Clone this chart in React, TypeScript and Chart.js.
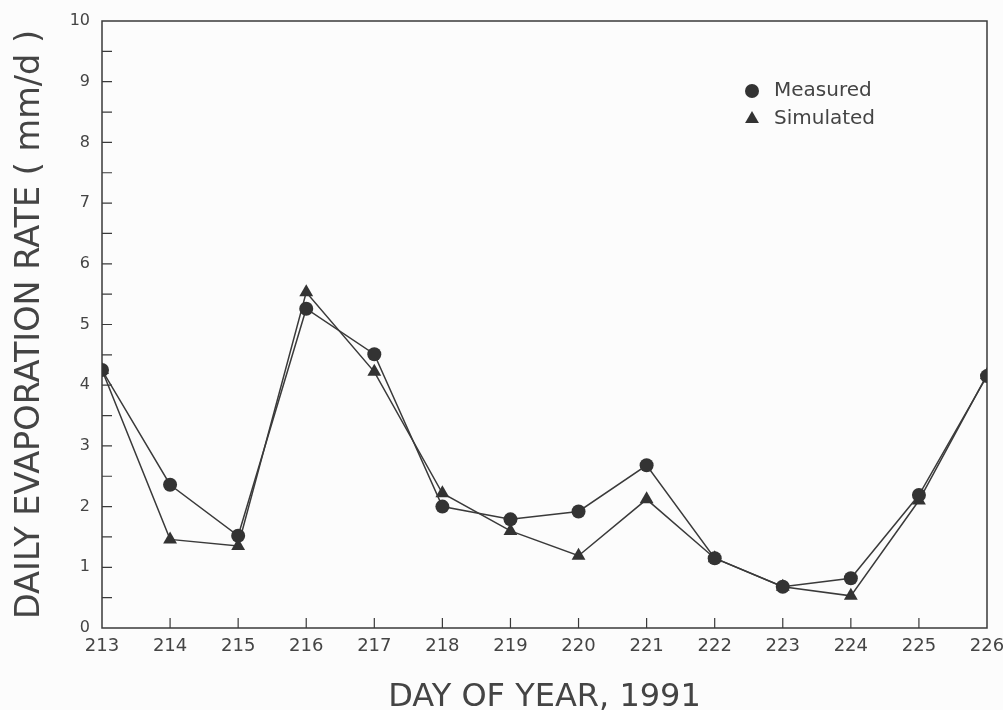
import React, { useEffect, useRef } from "react";
import { Chart, registerables } from "chart.js";

Chart.register(...registerables);

const days = [213, 214, 215, 216, 217, 218, 219, 220, 221, 222, 223, 224, 225, 226];
const measured = [4.25, 2.36, 1.52, 5.26, 4.51, 2.0, 1.79, 1.92, 2.68, 1.15, 0.68, 0.82, 2.19, 4.15];
const simulated = [4.25, 1.46, 1.35, 5.53, 4.22, 2.22, 1.6, 1.19, 2.12, 1.15, 0.68, 0.53, 2.1, 4.17];
const seriesLabels = ["Measured", "Simulated"];
const xTitle = "DAY OF YEAR, 1991";
const yTitle = "DAILY EVAPORATION RATE ( mm/d )";
const xRange = [213, 226];
const yRange = [0, 10];

const INK = "#3a3a3a";
const FONT = "'DejaVu Sans', 'Noto Sans', sans-serif";

const framePlugin = {
  id: "frame",
  beforeDraw(chart: any) {
    const { ctx, width, height } = chart;
    ctx.save();
    ctx.fillStyle = "#fcfcfc";
    ctx.fillRect(0, 0, width, height);
    ctx.restore();
  },
  beforeDatasetsDraw(chart: any) {
    const { ctx, chartArea: a, scales } = chart;
    ctx.save();
    ctx.strokeStyle = INK;
    ctx.lineWidth = 1.5;
    ctx.strokeRect(a.left, a.top, a.right - a.left, a.bottom - a.top);
    ctx.lineWidth = 1.2;
    ctx.beginPath();
    for (let d = xRange[0] + 1; d < xRange[1]; d++) {
      const px = scales.x.getPixelForValue(d);
      ctx.moveTo(px, a.bottom);
      ctx.lineTo(px, a.bottom - 10);
    }
    for (let v = yRange[0] + 0.5; v < yRange[1]; v += 0.5) {
      const py = scales.y.getPixelForValue(v);
      ctx.moveTo(a.left, py);
      ctx.lineTo(a.left + 10, py);
    }
    ctx.stroke();
    ctx.restore();
  },
  afterDraw(chart: any) {
    const { ctx, chartArea: a } = chart;
    ctx.save();
    const mx = a.left + 650;
    const rows = [a.top + 70, a.top + 98];
    chart.data.datasets.forEach((ds: any, i: number) => {
      const y = rows[i];
      ctx.fillStyle = "#333";
      ctx.beginPath();
      if (ds.pointStyle === "triangle") {
        const r = 8;
        ctx.moveTo(mx, y - r);
        ctx.lineTo(mx + r * Math.sin((2 * Math.PI) / 3), y - r * Math.cos((2 * Math.PI) / 3));
        ctx.lineTo(mx + r * Math.sin((4 * Math.PI) / 3), y - r * Math.cos((4 * Math.PI) / 3));
        ctx.closePath();
      } else {
        ctx.arc(mx, y, 7, 0, Math.PI * 2);
      }
      ctx.fill();
      ctx.fillStyle = "#444";
      ctx.font = `20px ${FONT}`;
      ctx.textBaseline = "middle";
      ctx.textAlign = "left";
      ctx.fillText(ds.label, mx + 22, y);
    });
    ctx.restore();
  },
};

export default function App() {
  const ref = useRef<HTMLCanvasElement | null>(null);

  useEffect(() => {
    if (!ref.current) return;
    const mk = (vals: number[]) => days.map((d, i) => ({ x: d, y: vals[i] }));
    const chart = new Chart(ref.current, {
      type: "line",
      data: {
        datasets: [
          {
            label: seriesLabels[0],
            data: mk(measured),
            borderColor: INK,
            backgroundColor: "#333",
            borderWidth: 1.5,
            pointStyle: "circle",
            pointRadius: 7,
            pointBorderWidth: 0,
            pointBackgroundColor: "#333",
            tension: 0,
          },
          {
            label: seriesLabels[1],
            data: mk(simulated),
            borderColor: INK,
            backgroundColor: "#333",
            borderWidth: 1.5,
            pointStyle: "triangle",
            pointRadius: 8,
            pointBorderWidth: 0,
            pointBackgroundColor: "#333",
            tension: 0,
          },
        ],
      },
      options: {
        animation: false,
        responsive: false,
        maintainAspectRatio: false,
        layout: { padding: { top: 21, right: 16, left: 0, bottom: 0 } },
        plugins: { legend: { display: false }, tooltip: { enabled: false } },
        scales: {
          x: {
            type: "linear",
            min: xRange[0],
            max: xRange[1],
            grid: { display: false, drawTicks: false },
            border: { display: false },
            ticks: { stepSize: 1, padding: 8, color: "#444", font: { family: FONT, size: 18 } },
            title: {
              display: true,
              text: xTitle,
              color: "#444",
              font: { family: FONT, size: 32, lineHeight: 0.8 },
              padding: { top: 0, bottom: 0 },
            },
            afterFit: (s: any) => {
              s.height = 82;
              s.paddingLeft = 0;
              s.paddingRight = 0;
            },
          },
          y: {
            type: "linear",
            min: yRange[0],
            max: yRange[1],
            grid: { display: false, drawTicks: false },
            border: { display: false },
            ticks: { stepSize: 1, padding: 12, color: "#444", font: { family: FONT, size: 16 } },
            title: {
              display: true,
              text: yTitle,
              color: "#444",
              font: { family: FONT, size: 33.5, lineHeight: 1.2 },
              padding: { top: 10, bottom: 0 },
            },
            afterFit: (s: any) => {
              s.width = 102;
              s.paddingTop = 0;
              s.paddingBottom = 0;
            },
          },
        },
      },
      plugins: [framePlugin],
    });
    return () => chart.destroy();
  }, []);

  return (
    <div style={{ position: "fixed", left: 0, top: 0, width: 1003, height: 710 }}>
      <canvas ref={ref} width={1003} height={710} />
    </div>
  );
}
